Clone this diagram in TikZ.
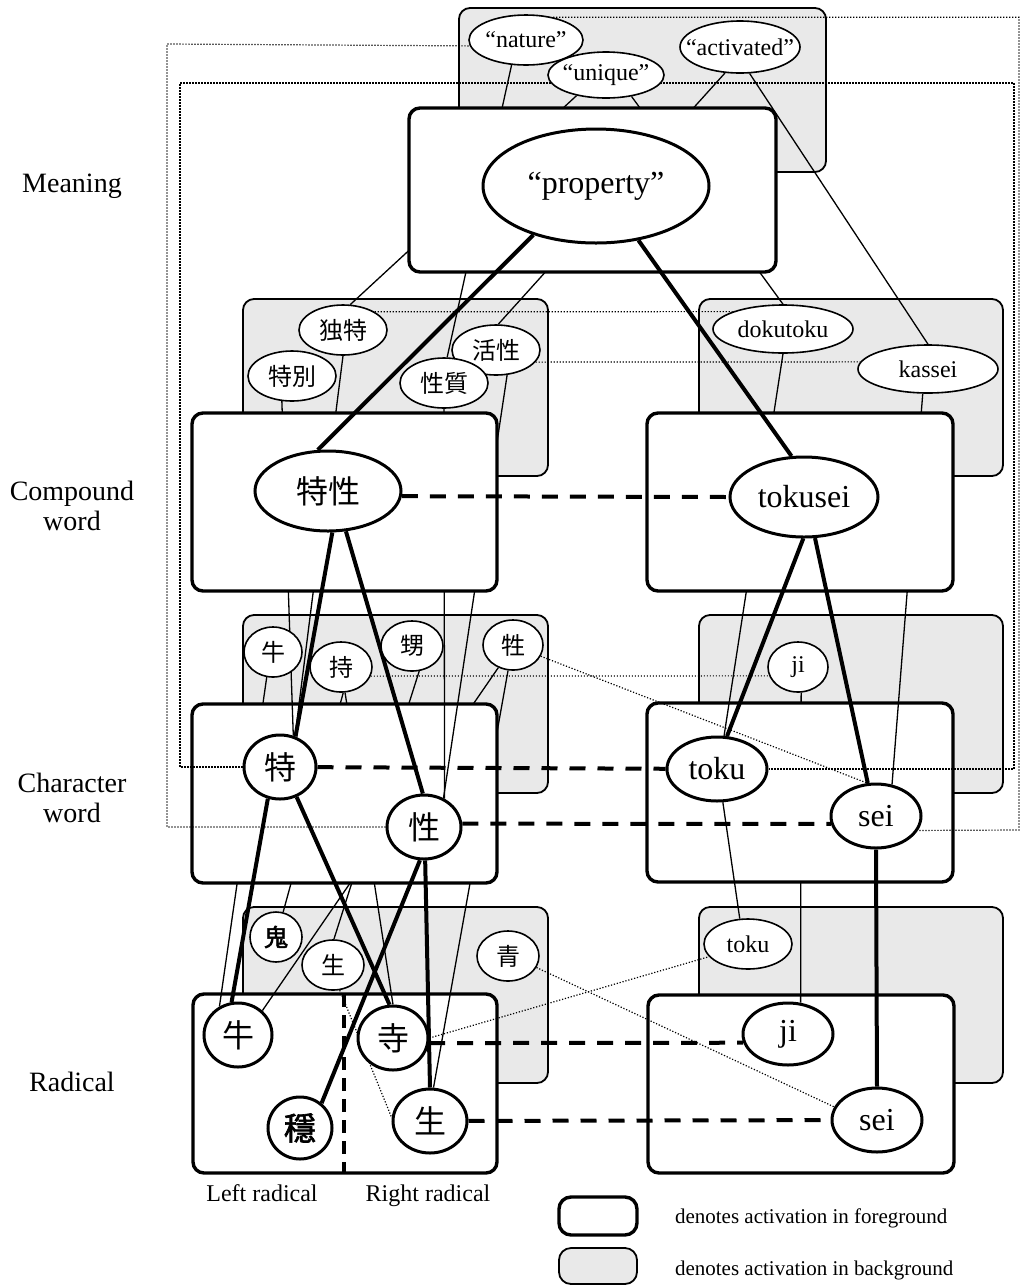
\documentclass[tikz,border=0pt]{standalone}
\usepackage{fontspec}
\setmainfont{Liberation Serif}
\newfontfamily\cjk{Noto Sans CJK JP}
\newfontfamily\cjkb[FakeBold=2]{Noto Sans CJK JP}
\usetikzlibrary{shapes.geometric}
\definecolor{boxgrey}{RGB}{233,233,233}
\pgfdeclarelayer{grey}
\pgfdeclarelayer{radbox}
\pgfdeclarelayer{radlink}
\pgfdeclarelayer{charbox}
\pgfdeclarelayer{charlink}
\pgfdeclarelayer{compbox}
\pgfdeclarelayer{complink}
\pgfdeclarelayer{meanbox}
\pgfdeclarelayer{front}
\pgfsetlayers{grey,radbox,radlink,charbox,charlink,compbox,complink,meanbox,front,main}

\begin{document}
\begin{tikzpicture}[x=0.5pt, y=-0.5pt]
    \tikzstyle{fgword}=[ellipse, draw, fill=white, line width=1.5pt, inner sep=0pt, font=\fontsize{16}{18}\selectfont]
    \tikzstyle{bgword}=[ellipse, draw, fill=white, line width=0.8pt, inner sep=-20pt, minimum width=44pt, minimum height=25pt, font=\fontsize{12}{14}\selectfont]
    \tikzstyle{fgbox}=[draw, fill=white, line width=1.7pt, rounded corners=5.5pt]
    \tikzstyle{bgbox}=[draw, fill=boxgrey, line width=0.9pt, rounded corners=5.5pt]
    \tikzstyle{weak}=[line width=0.65pt]
    \tikzstyle{strong}=[line width=2pt]
    \tikzstyle{trans}=[line width=2pt, dash pattern=on 8pt off 6pt]
    \tikzstyle{xlink}=[line width=0.6pt, dash pattern=on 0.6pt off 0.9pt]
    \tikzstyle{level}=[align=center, font=\fontsize{14}{15}\selectfont]
    \tikzstyle{caption}=[anchor=base, font=\fontsize{12}{14}\selectfont]
    \tikzstyle{legtext}=[anchor=west, font=\fontsize{10.5}{12}\selectfont]

    \useasboundingbox (0,0) rectangle (1021,1287);

    % level names
    \node[level] (lmean) at (72,186) {Meaning};
    \node[level] (lcomp) at (72,506) {Compound\\word};
    \node[level] (lchar) at (72,798) {Character\\word};
    \node[level] (lrad) at (72,1082) {Radical};

    % meaning
    \node[bgword, minimum width=57pt] (nat) at (526,40) {“nature”};
    \node[bgword, minimum width=58pt, minimum height=23pt] (uniq) at (606,75) {“unique”};
    \node[bgword, minimum width=60pt, minimum height=26pt] (actv) at (740,47) {“activated”};
    \node[fgword, minimum width=113pt, minimum height=57pt] (prop) at (596,186) {“property”};

    % compound word
    \node[bgword] (dokuJ) at (343,330) {\cjk 独特};
    \node[bgword] (betsu) at (292,376) {\cjk 特別};
    \node[bgword] (katsuJ) at (496,350) {\cjk 活性};
    \node[bgword] (shitsu) at (444,383) {\cjk 性質};
    \node[fgword, minimum width=73pt, minimum height=40pt] (tsJ) at (328,491) {\cjk 特性};
    \node[bgword, minimum width=70pt, minimum height=24pt] (dokuE) at (783,329) {dokutoku};
    \node[bgword, minimum width=70pt, minimum height=24pt] (katsuE) at (928,369) {kassei};
    \node[fgword, minimum width=74pt, minimum height=40pt] (tsE) at (804,497) {tokusei};

    % character word
    \node[bgword, minimum width=29pt] (ushiW) at (273,652) {\cjk 牛};
    \node[bgword, minimum width=31pt] (motsu) at (341,667) {\cjk 持};
    \node[bgword, minimum width=31pt] (oi) at (412,646) {\cjk 甥};
    \node[bgword, minimum width=30pt] (ikeni) at (513,645) {\cjk 牲};
    \node[fgword, minimum width=36pt, minimum height=32pt] (tokuJ) at (280,767) {\cjk 特};
    \node[fgword, minimum width=37pt, minimum height=32pt] (seiJ) at (424,827) {\cjk 性};
    \node[bgword, minimum width=30pt] (jiW) at (798,667) {ji};
    \node[fgword, minimum width=50pt, minimum height=32pt] (tokuE) at (717,769) {toku};
    \node[fgword, minimum width=45pt, minimum height=32pt] (seiE) at (876,816) {sei};

    % radical
    \node[bgword, minimum width=26pt] (oni) at (276,937) {\cjkb 鬼};
    \node[bgword, minimum width=31pt] (ikiB) at (333,965) {\cjk 生};
    \node[bgword, minimum width=31pt] (ao) at (508,956) {\cjk 青};
    \node[fgword, minimum width=34pt, minimum height=32pt] (ushiR) at (238,1035) {\cjk 牛};
    \node[fgword, minimum width=35pt, minimum height=32pt] (tera) at (393,1038) {\cjk 寺};
    \node[fgword, minimum width=32pt, minimum height=31pt] (odaya) at (300,1128) {\cjkb 穩};
    \node[fgword, minimum width=37pt, minimum height=32pt] (ikiF) at (430,1121) {\cjk 生};
    \node[bgword] (tokuR) at (748,944) {toku};
    \node[fgword, minimum width=45pt, minimum height=31pt] (jiR) at (788,1034) {ji};
    \node[fgword, minimum width=45pt, minimum height=32pt] (seiR) at (877,1120) {sei};

    \node[caption] (leftcap) at (262,1201) {Left radical};
    \node[caption] (rightcap) at (428,1201) {Right radical};

    % legend
    \node[legtext] (legfg) at (668,1218) {denotes activation in foreground};
    \node[legtext] (legbg) at (668,1270) {denotes activation in background};

    \begin{pgfonlayer}{grey}
        \draw[bgbox] (459,8) rectangle (826,172);
        \draw[bgbox] (243,299) rectangle (548,476);
        \draw[bgbox] (699,299) rectangle (1003,476);
        \draw[bgbox] (243,615) rectangle (548,793);
        \draw[bgbox] (699,615) rectangle (1003,793);
        \draw[bgbox] (243,907) rectangle (548,1083);
        \draw[bgbox] (699,907) rectangle (1003,1083);
        \draw[bgbox, rounded corners=6pt] (559,1248) rectangle (637,1284);
    \end{pgfonlayer}

    \begin{pgfonlayer}{radbox}
        \draw[fgbox] (193,994) rectangle (497,1173);
        \draw[fgbox] (648,995) rectangle (954,1173);
    \end{pgfonlayer}

    \begin{pgfonlayer}{radlink}
        \draw[weak] (ushiW.256) -- (ushiR.123);
        \draw[weak] (motsu.279) -- (tera.90);
        \draw[weak] (motsu.275) -- (oni.74);
        \draw[weak] (oi.286) -- (ikiB.88);
        \draw[weak] (ikeni.237) -- (ushiR.45);
        \draw[weak] (ikeni.259) -- (ikiF.84);
        \draw[weak] (jiW.277) -- (jiR.68);
    \end{pgfonlayer}

    \begin{pgfonlayer}{charbox}
        \draw[fgbox] (192,704) rectangle (497,883);
        \draw[fgbox] (647,703) rectangle (953,882);
    \end{pgfonlayer}

    \begin{pgfonlayer}{charlink}
        \draw[weak] (betsu.248) -- (tokuJ.67);
        \draw[weak] (dokuJ.270) -- (tokuJ.64);
        \draw[weak] (shitsu.270) -- (seiJ.54);
        \draw[weak] (katsuJ.294) -- (seiJ.56);
        \draw[weak] (dokuE.270) -- (tokuE.78);
        \draw[weak] (katsuE.258) -- (seiE.63);
        \draw[weak] (tokuE.280) -- (tokuR.108);
    \end{pgfonlayer}

    \begin{pgfonlayer}{compbox}
        \draw[fgbox] (192,413) rectangle (497,591);
        \draw[fgbox] (647,413) rectangle (953,591);
    \end{pgfonlayer}

    \begin{pgfonlayer}{complink}
        \draw[weak] (nat.240) -- (shitsu.83);
        \draw[weak] (uniq.215) -- (dokuJ.74);
        \draw[weak] (uniq.320) -- (dokuE.90);
        \draw[weak] (actv.240) -- (katsuJ.85);
        \draw[weak] (actv.290) -- (katsuE.90);
    \end{pgfonlayer}

    \begin{pgfonlayer}{meanbox}
        \draw[fgbox] (409,108) rectangle (776,272);
    \end{pgfonlayer}

    \begin{pgfonlayer}{front}
        % foreground activation
        \draw[strong] (prop.218) -- (tsJ.104);
        \draw[strong] (prop.308) -- (tsE.107);
        \draw[strong] (tsJ.276) -- (tokuJ.63);
        \draw[strong] (tsJ.294) -- (seiJ.92);
        \draw[strong] (tsE.269) -- (tokuE.73);
        \draw[strong] (tsE.285) -- (seiE.104);
        \draw[strong] (tokuJ.249) -- (ushiR.101);
        \draw[strong] (tokuJ.299) -- (tera.96);
        \draw[strong] (seiJ.263) -- (odaya.49);
        \draw[strong] (seiJ.272) -- (ikiF.90);
        \draw[strong] (seiE.270) -- (seiR.90);

        % translation pairs
        \draw[trans] (tsJ.356) -- (tsE.west);
        \draw[trans] (tokuJ) -- (tokuE);
        \draw[trans] (seiJ.5) -- (seiE.190);
        \draw[trans] (tera.352) -- (jiR.191);
        \draw[trans] (ikiF) -- (seiR);
        \draw[trans, dash pattern=on 6.5pt off 4pt] (344,994) -- (344,1173);

        % cross links
        \draw[xlink] (seiJ.west) -| (167,44) -- (nat.186);
        \draw[xlink] (nat.40) -| (1019,830) -- (seiE.341);
        \draw[xlink] (tokuJ.west) -| (180,83) -- (1014,83) |- (tokuE.east);
        \draw[xlink] (dokuJ.30) -- (dokuE.161);
        \draw[xlink] (katsuJ.343) -- (katsuE.174);
        \draw[xlink] (motsu.343) -- (jiW.197);
        \draw[xlink] (ikeni.338) -- (seiE.105);
        \draw[xlink] (ao.338) -- (seiR.163);
        \draw[xlink] (tera.east) -- (tokuR.198);
        \draw[xlink] (ikiB.285) -- (ikiF.175);

        % legend box
        \draw[fgbox, rounded corners=6pt] (559,1197) rectangle (637,1235);
    \end{pgfonlayer}
\end{tikzpicture}
\end{document}
